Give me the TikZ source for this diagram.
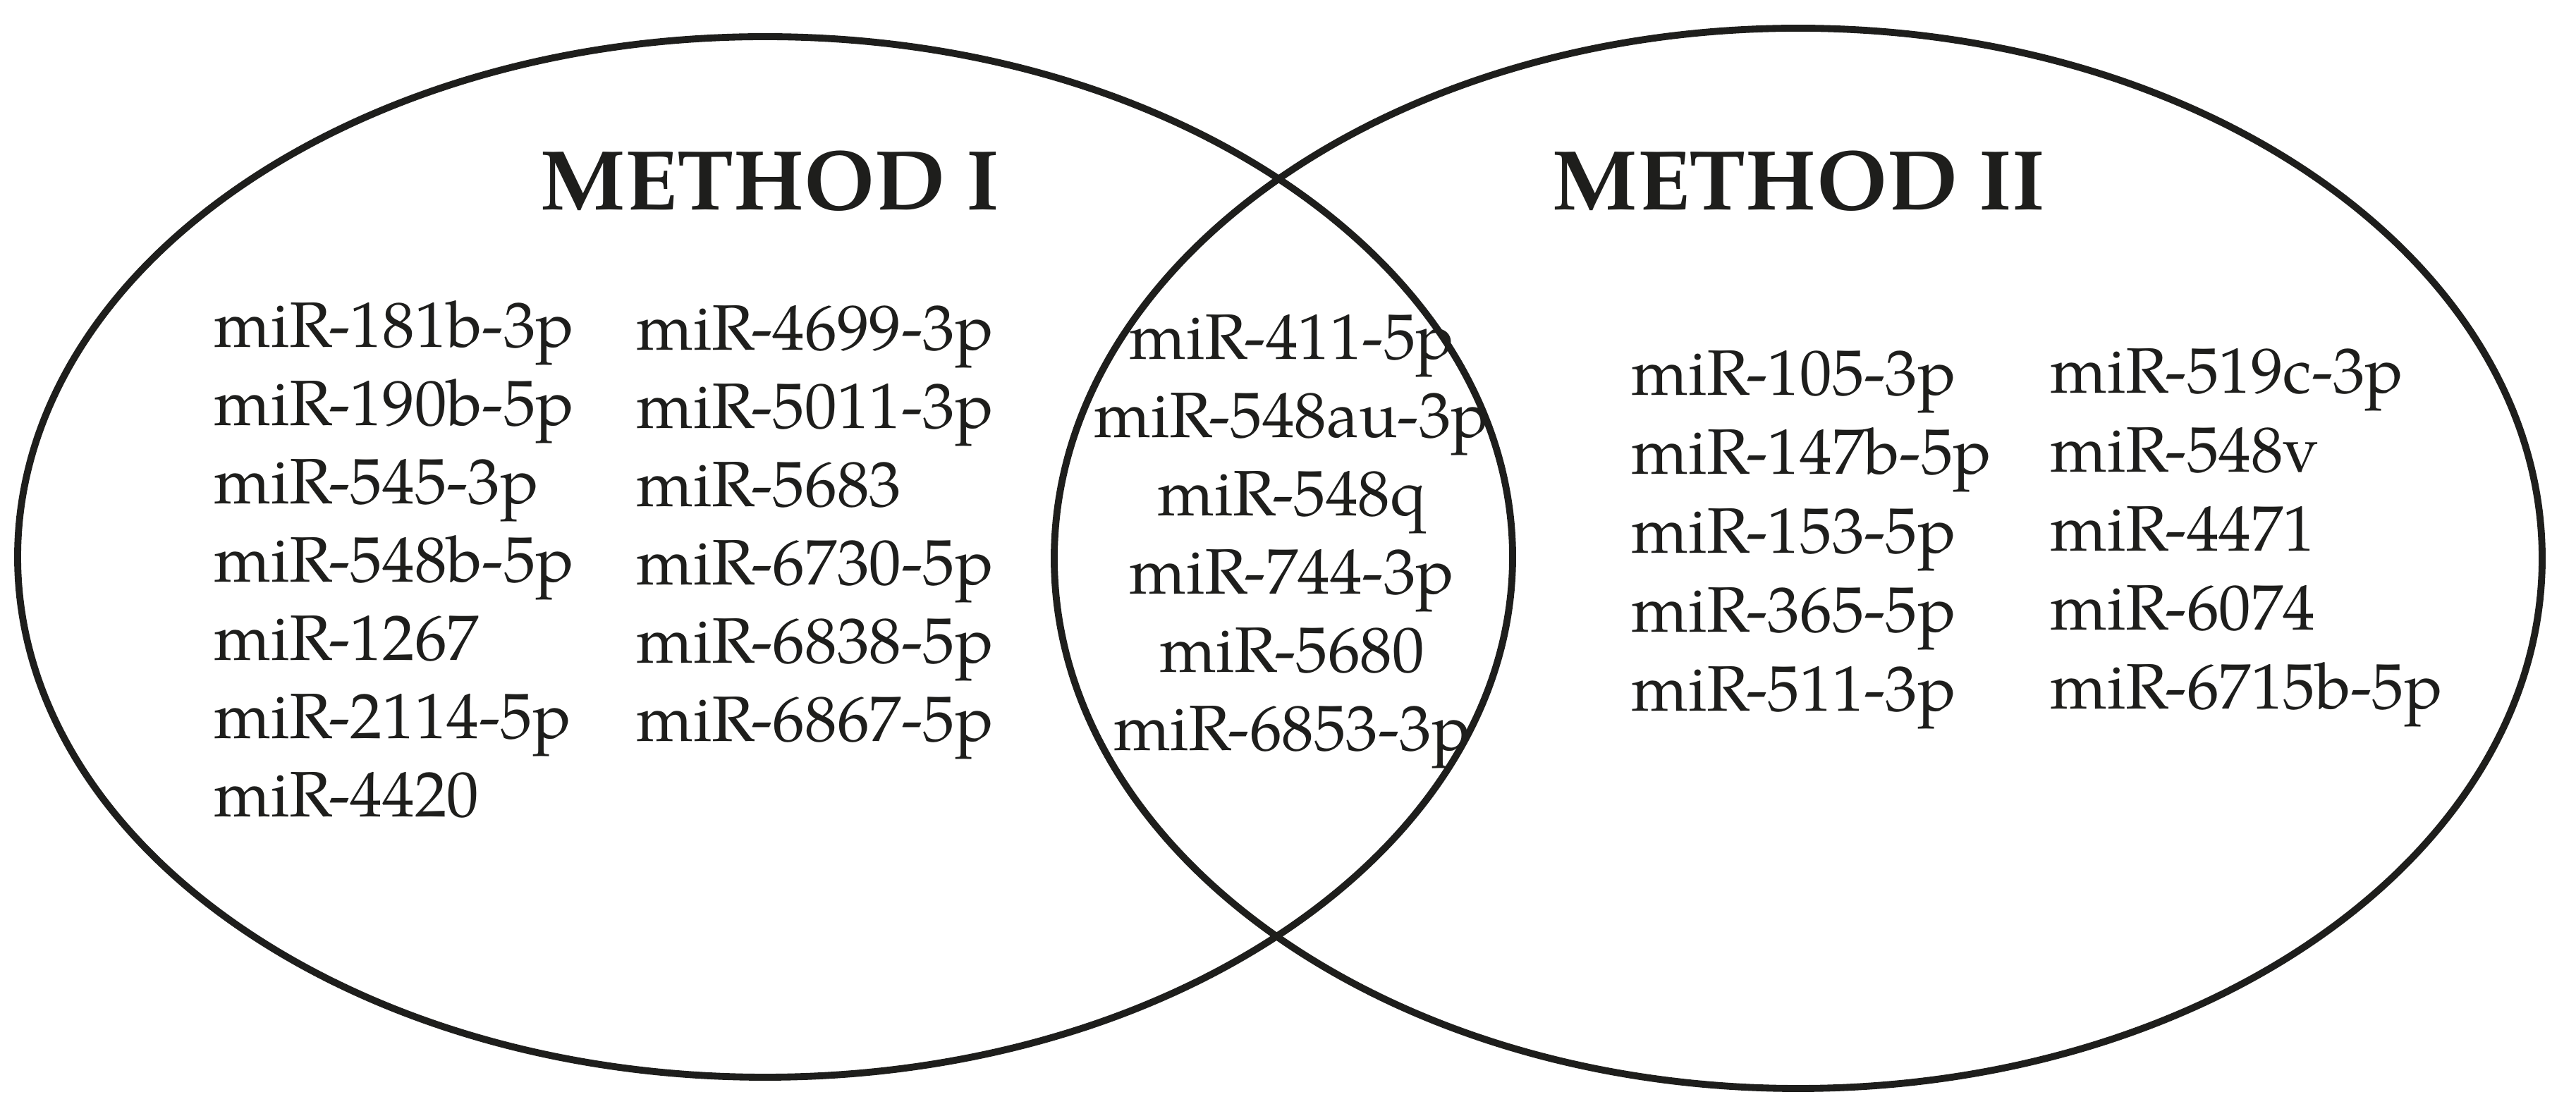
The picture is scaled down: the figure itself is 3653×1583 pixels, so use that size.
\documentclass[tikz,border=0pt]{standalone}
\usepackage{fontspec}
\setmainfont{TeX Gyre Pagella}
\definecolor{ink}{RGB}{30,30,28}
\tikzset{
  venn/.style={draw=ink, line width=2.8pt},
  mir/.style={inner sep=0pt, anchor=base west, text=ink, font=\fontsize{25.9}{30}\selectfont},
  mirc/.style={mir, anchor=base},
  head/.style={inner sep=0pt, anchor=base, text=ink, font=\bfseries\fontsize{34.2}{40}\selectfont}
}
\begin{document}
\begin{tikzpicture}[x=0.01cm, y=-0.01cm]
\useasboundingbox (0,0) rectangle (3653,1583);
\draw[venn] (1085,790) ellipse [x radius=1060, y radius=738];
\draw[venn] (2550,792) ellipse [x radius=1055, y radius=752];
\node[head] (h1) at (1092,298) {METHOD I};
\node[head] (h2) at (2551,298) {METHOD II};
% left column 1
\node[mir] (a1) at (303,493) {miR-181b-3p};
\node[mir] (a2) at (303,604) {miR-190b-5p};
\node[mir] (a3) at (303,715) {miR-545-3p};
\node[mir] (a4) at (303,826) {miR-548b-5p};
\node[mir] (a5) at (303,937) {miR-1267};
\node[mir] (a6) at (303,1048) {miR-2114-5p};
\node[mir] (a7) at (303,1159) {miR-4420};
% left column 2
\node[mir] (b1) at (902,497) {miR-4699-3p};
\node[mir] (b2) at (902,608) {miR-5011-3p};
\node[mir] (b3) at (902,719) {miR-5683};
\node[mir] (b4) at (902,830) {miR-6730-5p};
\node[mir] (b5) at (902,941) {miR-6838-5p};
\node[mir] (b6) at (902,1052) {miR-6867-5p};
% middle
\node[mirc] (c1) at (1832,510) {miR-411-5p};
\node[mirc] (c2) at (1832,621) {miR-548au-3p};
\node[mirc] (c3) at (1832,732) {miR-548q};
\node[mirc] (c4) at (1832,843) {miR-744-3p};
\node[mirc] (c5) at (1832,954) {miR-5680};
\node[mirc] (c6) at (1832,1065) {miR-6853-3p};
% right column 1
\node[mir] (d1) at (2313,561) {miR-105-3p};
\node[mir] (d2) at (2313,673) {miR-147b-5p};
\node[mir] (d3) at (2313,785) {miR-153-5p};
\node[mir] (d4) at (2313,897) {miR-365-5p};
\node[mir] (d5) at (2313,1009) {miR-511-3p};
% right column 2
\node[mir] (e1) at (2907,558) {miR-519c-3p};
\node[mir] (e2) at (2907,670) {miR-548v};
\node[mir] (e3) at (2907,782) {miR-4471};
\node[mir] (e4) at (2907,894) {miR-6074};
\node[mir] (e5) at (2907,1006) {miR-6715b-5p};
\end{tikzpicture}
\end{document}
